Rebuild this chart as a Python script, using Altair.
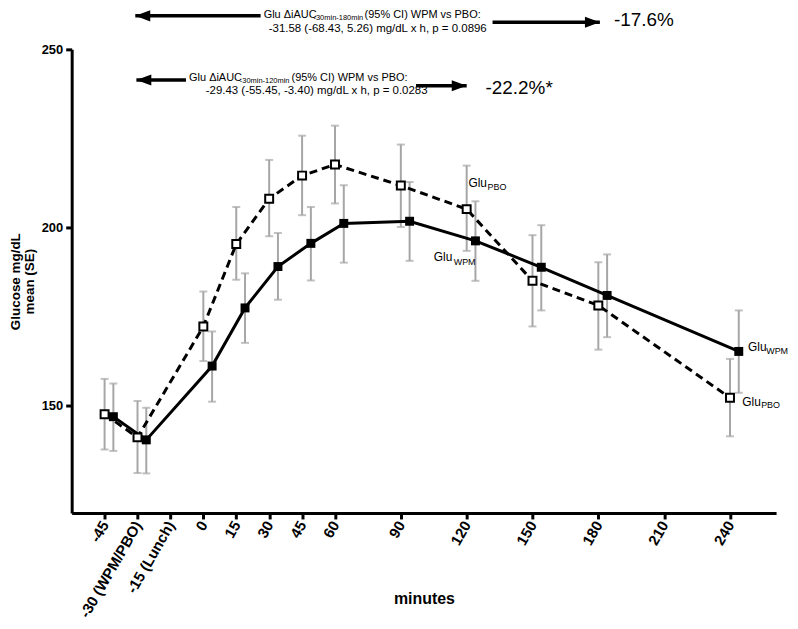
import altair as alt
import pandas as pd

# ---------------- data ----------------
minutes = [-45, -30, 0, 15, 30, 45, 60, 90, 120, 150, 180, 240]
pbo_mean = [147.7, 141.2, 172.3, 195.4, 208.1, 214.6, 217.7, 211.8, 205.2, 185.1, 178.2, 152.3]
pbo_lo = [137.8, 131.2, 162.6, 185.4, 197.6, 203.5, 206.8, 200.2, 193.5, 172.3, 165.8, 141.5]
pbo_hi = [157.6, 151.4, 182.1, 205.8, 219.0, 225.8, 228.6, 223.3, 217.4, 197.9, 190.3, 163.2]
wpm_mean = [147.0, 140.5, 161.2, 177.5, 189.1, 195.6, 201.2, 201.8, 196.3, 188.9, 181.0, 165.3]
wpm_lo = [137.4, 131.1, 151.2, 167.7, 179.8, 185.2, 190.2, 190.7, 185.1, 176.8, 169.3, 153.7]
wpm_hi = [156.3, 149.5, 170.9, 187.2, 198.5, 205.8, 211.9, 212.8, 207.4, 200.7, 192.5, 176.8]
wpm_shift = 4  # WPM points drawn slightly right of the tick, as in the original

tick_values = [-45, -30, -15, 0, 15, 30, 45, 60, 90, 120, 150, 180, 210, 240]
tick_labels = ["-45", "-30 (WPM/PBO)", "-15 (Lunch)", "0", "15", "30", "45", "60",
               "90", "120", "150", "180", "210", "240"]
y_ticks = [150, 200, 250]

# text annotations (minutes, mg/dL positions)
txt_text = ["Glu", "PBO", "Glu", "WPM", "Glu", "WPM", "Glu", "PBO",
            "Glu ΔiAUC", "-30min-180min", "(95% CI) WPM vs  PBO:",
            "-31.58 (-68.43, 5.26) mg/dL x h, p = 0.0896", "-17.6%",
            "Glu ΔiAUC", "-30min-120min", "(95% CI) WPM vs  PBO:",
            "-29.43 (-55.45, -3.40) mg/dL x h, p = 0.0283", "-22.2%*"]
txt_x = [120.8, 129.5, 105.0, 114.1, 248.2, 256.5, 245.6, 254.2,
         27.5, 50.2, 73.5, 29.8, 187.1,
         -6.5, 16.6, 40.2, 1.1, 128.6]
txt_y = [212.4, 211.4, 191.9, 190.5, 166.6, 165.5, 151.2, 150.3,
         259.5, 258.85, 259.5, 255.75, 258.2,
         242.1, 241.1, 242.1, 238.3, 239.2]
txt_size = [12, 9, 12, 9, 12, 9, 12, 9,
            11, 7.5, 11, 11.5, 19,
            11, 7.5, 11, 11.5, 19]

# arrows
arr_x1 = [-31.0, 131.8, -30.5, 96.9]
arr_x2 = [26.1, 180.7, -7.9, 120.0]
arr_y = [259.4, 257.6, 241.4, 239.8]
arr_tip = [-31.0, 180.7, -30.5, 120.0]
arr_dir = ["left", "right", "left", "right"]

# ---------------- tables ----------------
pbo = pd.DataFrame({"minute": minutes, "xpos": minutes, "mean": pbo_mean,
                    "lo": pbo_lo, "hi": pbo_hi})
wpm = pd.DataFrame({"minute": minutes, "xpos": [m + wpm_shift for m in minutes],
                    "mean": wpm_mean, "lo": wpm_lo, "hi": wpm_hi})
both = pd.concat([pbo, wpm], ignore_index=True)
txt = pd.DataFrame({"t": txt_text, "x": txt_x, "y": txt_y, "fs": txt_size})
head_paths = {"left": "M0,0L2,-0.75L2,0.75Z", "right": "M0,0L-2,-0.75L-2,0.75Z"}
arr = pd.DataFrame({"x1": arr_x1, "x2": arr_x2, "y": arr_y, "tip": arr_tip,
                    "shape": [head_paths[d] for d in arr_dir]})

FONT = "Liberation Sans"
GRAY = "#a6a6a6"

label_expr = "".join(
    f"datum.value == {v} ? '{l}' : " for v, l in zip(tick_values, tick_labels)
) + "datum.label"

xscale = alt.Scale(domain=[-60, 261], nice=False, zero=False)
yscale = alt.Scale(domain=[120, 250], nice=False, zero=False)

xaxis = alt.Axis(values=tick_values, labelExpr=label_expr, labelAngle=-60,
                 labelAlign="right", labelBaseline="middle", labelFont=FONT,
                 labelFontWeight="bold", labelFontSize=15, labelPadding=3,
                 labelOverlap=False, labelColor="black",
                 tickSize=6, tickWidth=3, tickColor="black",
                 domainWidth=3, domainColor="black", grid=False,
                 title="minutes", titleFont=FONT, titleFontSize=16,
                 titleFontWeight="bold", titleColor="black",
                 titleY=86, titleBaseline="middle")
yaxis = alt.Axis(values=y_ticks, labelFont=FONT, labelFontWeight="bold",
                 labelFontSize=13, labelPadding=3, labelColor="black",
                 tickSize=6, tickWidth=3, tickColor="black",
                 domainWidth=3, domainColor="black", grid=False,
                 title=["Glucose mg/dL", "mean (SE)"], titleFont=FONT,
                 titleFontSize=13.5, titleFontWeight="bold", titleColor="black",
                 titleX=-56, titleY=233, titleBaseline="middle", titleLineHeight=14)

base = alt.Chart(both)

err = base.mark_rule(color=GRAY, strokeWidth=2).encode(
    x=alt.X("xpos:Q", scale=xscale, axis=xaxis),
    y=alt.Y("lo:Q", scale=yscale, axis=yaxis),
    y2="hi:Q",
)
cap_lo = base.mark_tick(color=GRAY, orient="horizontal", size=8, thickness=2).encode(
    x="xpos:Q", y="lo:Q")
cap_hi = base.mark_tick(color=GRAY, orient="horizontal", size=8, thickness=2).encode(
    x="xpos:Q", y="hi:Q")

line_pbo = alt.Chart(pbo).mark_line(color="black", strokeWidth=3,
                                    strokeDash=[8, 5]).encode(x="xpos:Q", y="mean:Q")
line_wpm = alt.Chart(wpm).mark_line(color="black", strokeWidth=3).encode(
    x="xpos:Q", y="mean:Q")
pt_pbo = alt.Chart(pbo).mark_point(shape="square", filled=True, fill="white",
                                   stroke="black", strokeWidth=2, size=64,
                                   opacity=1).encode(x="xpos:Q", y="mean:Q")
pt_wpm = alt.Chart(wpm).mark_point(shape="square", filled=True, color="black",
                                   size=81, opacity=1).encode(x="xpos:Q", y="mean:Q")

texts = alt.Chart(txt).mark_text(font=FONT, align="left", baseline="middle",
                                 color="black").encode(
    x="x:Q", y="y:Q", text="t:N", size=alt.Size("fs:Q", scale=None))

arrow_lines = alt.Chart(arr).mark_rule(color="black", strokeWidth=3.5).encode(
    x="x1:Q", x2="x2:Q", y="y:Q")
arrow_heads = alt.Chart(arr).mark_point(filled=True, color="black", size=225,
                                        opacity=1).encode(
    x="tip:Q", y="y:Q", shape=alt.Shape("shape:N", scale=None))

chart = alt.layer(
    err, cap_lo, cap_hi, line_pbo, line_wpm, pt_pbo, pt_wpm,
    arrow_lines, arrow_heads, texts
).properties(
    width=708, height=466,
    autosize=alt.AutoSizeParams(type="none"),
    padding={"left": 64, "top": 40, "right": 14, "bottom": 107},
    background="white",
).configure_view(stroke=None)

chart.save("out.html", embed_options={"renderer": "svg", "actions": False})
